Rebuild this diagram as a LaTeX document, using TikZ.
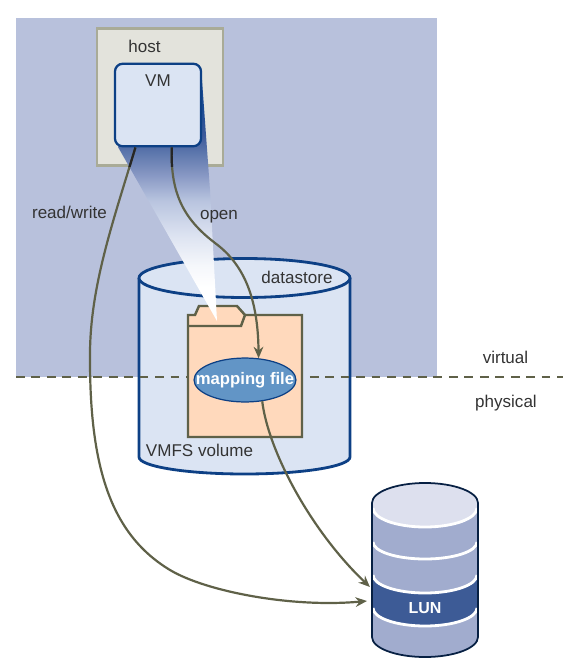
\documentclass[tikz,border=0pt]{standalone}
\usepackage{fontspec}
\setmainfont{Liberation Sans}
\usetikzlibrary{arrows.meta,shapes.geometric}

\definecolor{zoneblue}{HTML}{B8C1DC}
\definecolor{hostfill}{HTML}{E3E3DC}
\definecolor{hostedge}{HTML}{A9AB97}
\definecolor{paleblue}{HTML}{DBE4F3}
\definecolor{navy}{HTML}{0D4085}
\definecolor{olive}{HTML}{5F6148}
\definecolor{folderfill}{HTML}{FFD9BC}
\definecolor{mapfill}{HTML}{6295C6}
\definecolor{disktop}{HTML}{DDE0EE}
\definecolor{diskbody}{HTML}{A1ACCE}
\definecolor{diskband}{HTML}{3D5B96}
\definecolor{ink}{HTML}{333333}
\definecolor{beamA}{HTML}{F5F7FB}
\definecolor{beamB}{HTML}{DDE3F1}
\definecolor{beamC}{HTML}{B8C4DF}
\definecolor{beamD}{HTML}{8A9AC5}
\definecolor{beamE}{HTML}{5C76AC}
\definecolor{beamF}{HTML}{3D5A9A}
\definecolor{beamG}{HTML}{1A4A92}

\pgfdeclareverticalshading{vmbeam}{100bp}{
  color(0bp)=(white);
  color(32bp)=(white);
  color(36.5bp)=(beamA);
  color(42.7bp)=(beamB);
  color(50bp)=(beamC);
  color(55bp)=(beamD);
  color(60bp)=(beamE);
  color(63.5bp)=(beamF);
  color(69bp)=(beamG);
  color(100bp)=(beamG)}

\tikzset{
  lbl/.style={text=ink,font=\fontsize{9.7}{11}\selectfont,inner sep=0pt},
  link/.style={draw=olive,line width=1.25pt,-{Stealth[length=6.5pt,width=5.5pt]}}
}

\begin{document}
\begin{tikzpicture}[x=0.02cm,y=-0.02cm]
    \useasboundingbox (0,0) rectangle (583,670);
    \fill[zoneblue] (16,18) rectangle (437,377);
    \node[draw=hostedge,fill=hostfill,line width=1.4pt,minimum width=72pt,minimum height=78pt,inner sep=0pt] (host) at (160,97) {};
    % datastore cylinder
    \draw[fill=paleblue,draw=navy,line width=1.6pt] (139,278) -- (139,457) arc[start angle=180,end angle=0,x radius=105.5,y radius=17] -- (350,278);
    \draw[fill=paleblue,draw=navy,line width=1.6pt] (244.5,278) ellipse[x radius=105.5,y radius=19.5];
    \coordinate (lineL) at (16,377);
    \coordinate (lineR) at (563,377);
    \draw[olive,line width=1.2pt,dash pattern=on 5pt off 3.8pt] (lineL) -- (lineR);
    % folder
    \draw[fill=folderfill,draw=olive,line width=1.4pt] (188,315) -- (195,315) -- (199,306) -- (237,306) -- (245,315) -- (302,315) -- (302,437) -- (188,437) -- cycle;
    \draw[draw=olive,line width=1.4pt] (188,326) -- (241,326) -- (245,315);
    % beam from the VM
    \shade[shading=vmbeam] (118,147) -- (217,321) -- (210,190) -- (202,80) -- (160,80) -- cycle;
    \node[draw=navy,fill=paleblue,line width=1.3pt,rounded corners=4.5pt,minimum width=49pt,minimum height=47pt,inner sep=0pt] (vm) at (158,105) {};
    \node[ellipse,draw=navy,fill=mapfill,line width=0.7pt,minimum width=58pt,minimum height=25pt,inner sep=0pt] (map) at (245,380) {};
    \node[font=\fontsize{9.5}{11}\selectfont\bfseries,text=white,inner sep=0pt] at (map) {mapping file};
    % disk
    \fill[diskbody] (372,503) arc[start angle=180,end angle=360,x radius=53,y radius=20] -- (478,637) arc[start angle=0,end angle=180,x radius=53,y radius=20] -- cycle;
    \fill[diskband] (372,575) arc[start angle=180,end angle=0,x radius=53,y radius=18] -- (478,608) arc[start angle=0,end angle=180,x radius=53,y radius=18] -- cycle;
    \fill[disktop] (372,503) arc[start angle=180,end angle=360,x radius=53,y radius=20] -- (478,508) arc[start angle=0,end angle=180,x radius=53,y radius=19] -- cycle;
    \foreach \y/\r in {508/19,542/17,575/18,608/18} {
      \draw[white,line width=1.6pt] (373,\y) arc[start angle=180,end angle=0,x radius=52,y radius=\r];
    }
    \draw[draw=black!50!navy,line width=1pt] (372,503) arc[start angle=180,end angle=360,x radius=53,y radius=20] -- (478,637) arc[start angle=0,end angle=180,x radius=53,y radius=20] -- cycle;
    \node[font=\fontsize{9.1}{11}\selectfont\bfseries,text=white,inner sep=0pt,minimum width=60pt] (lun) at (425,608) {LUN};
    % links
    \draw[link] (vm.242) .. controls (112,225) and (89,290) .. (90,360) .. controls (90,470) and (112,535) .. (170,570) .. controls (205,591) and (290,608) .. ([shift={(-5,-7)}]lun.west);
    \draw[link] (vm.288) .. controls (170,195) and (185,220) .. (215,243) .. controls (245,265) and (258,300) .. (map.58);
    \draw[link] (map.309) .. controls (268,450) and (310,530) .. ([shift={(-2,-21)}]lun.west);
    % links look darker where they cross the host
    \begin{scope}
      \clip (host.south west) rectangle (host.north east);
      \draw[black!85,line width=1.25pt] (vm.242) .. controls (112,225) and (89,290) .. (90,360);
      \draw[black!85,line width=1.25pt] (vm.288) .. controls (170,195) and (185,220) .. (215,243);
    \end{scope}
    % labels
    \node[lbl] (hostlbl) at (144.5,46) {host};
    \node[lbl] (vmlbl) at (158,81) {VM};
    \node[lbl] (rw) at (69.5,212) {read/write};
    \node[lbl] (openlbl) at (219,217) {open};
    \node[lbl] (dslbl) at (297,277) {datastore};
    \node[lbl] (vmfs) at (199.5,450) {VMFS volume};
    \node[lbl] (virt) at (505.5,357) {virtual};
    \node[lbl] (phys) at (506,403) {physical};
  \end{tikzpicture}
\end{document}
